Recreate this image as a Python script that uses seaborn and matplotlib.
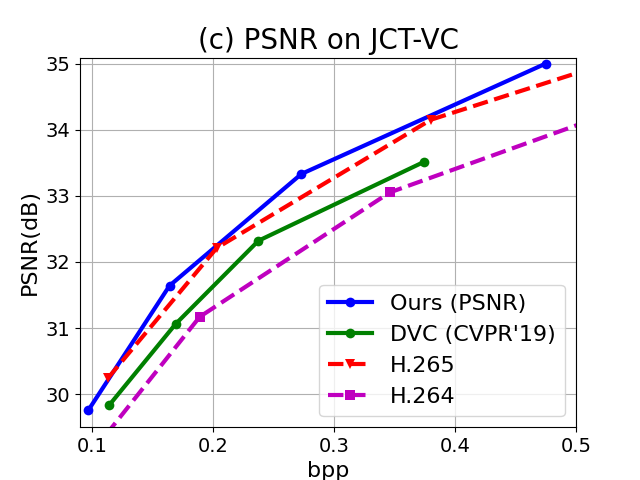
import matplotlib
matplotlib.use("Agg")
import matplotlib.pyplot as plt
import seaborn as sns

# bpp / PSNR
ours_bpp = [0.097, 0.164, 0.273, 0.475]
ours_psnr = [29.76, 31.64, 33.33, 35.0]

dvc_bpp = [0.114, 0.169, 0.2375, 0.374]
dvc_psnr = [29.83, 31.06, 32.32, 33.51]

h265_bpp = [0.113, 0.203, 0.380, 0.58]
h265_psnr = [30.24, 32.21, 34.15, 35.32]

h264_bpp = [0.100, 0.189, 0.346, 0.58]
h264_psnr = [29.12, 31.17, 33.05, 34.59]

fig, ax = plt.subplots(figsize=(6.4, 4.8), dpi=100)

sns.lineplot(x=ours_bpp, y=ours_psnr, color='b', marker='o', markersize=7,
             markeredgewidth=0, lw=3, label='Ours (PSNR)', sort=False, ax=ax)
sns.lineplot(x=dvc_bpp, y=dvc_psnr, color='g', marker='o', markersize=7,
             markeredgewidth=0, lw=3, label="DVC (CVPR'19)", sort=False, ax=ax)
sns.lineplot(x=h265_bpp, y=h265_psnr, color='r', marker='v', markersize=7,
             markeredgewidth=0, lw=3, linestyle='--', label='H.265', sort=False, ax=ax)
sns.lineplot(x=h264_bpp, y=h264_psnr, color='m', marker='s', markersize=7,
             markeredgewidth=0, lw=3, linestyle='--', label='H.264', sort=False, ax=ax)

ax.set_xlim(0.09, 0.5)
ax.set_ylim(29.5, 35.09)
ax.set_xticks([0.1, 0.2, 0.3, 0.4, 0.5])
ax.set_xticklabels(['0.1', '0.2', '0.3', '0.4', '0.5'])
ax.set_yticks([30, 31, 32, 33, 34, 35])
ax.tick_params(labelsize=14)
ax.grid(True)

ax.set_title('(c) PSNR on JCT-VC', fontsize=20)
ax.set_xlabel('bpp', fontsize=16)
ax.set_ylabel('PSNR(dB)', fontsize=16)
ax.legend(loc='lower right', fontsize=16)

plt.savefig('out.png')
